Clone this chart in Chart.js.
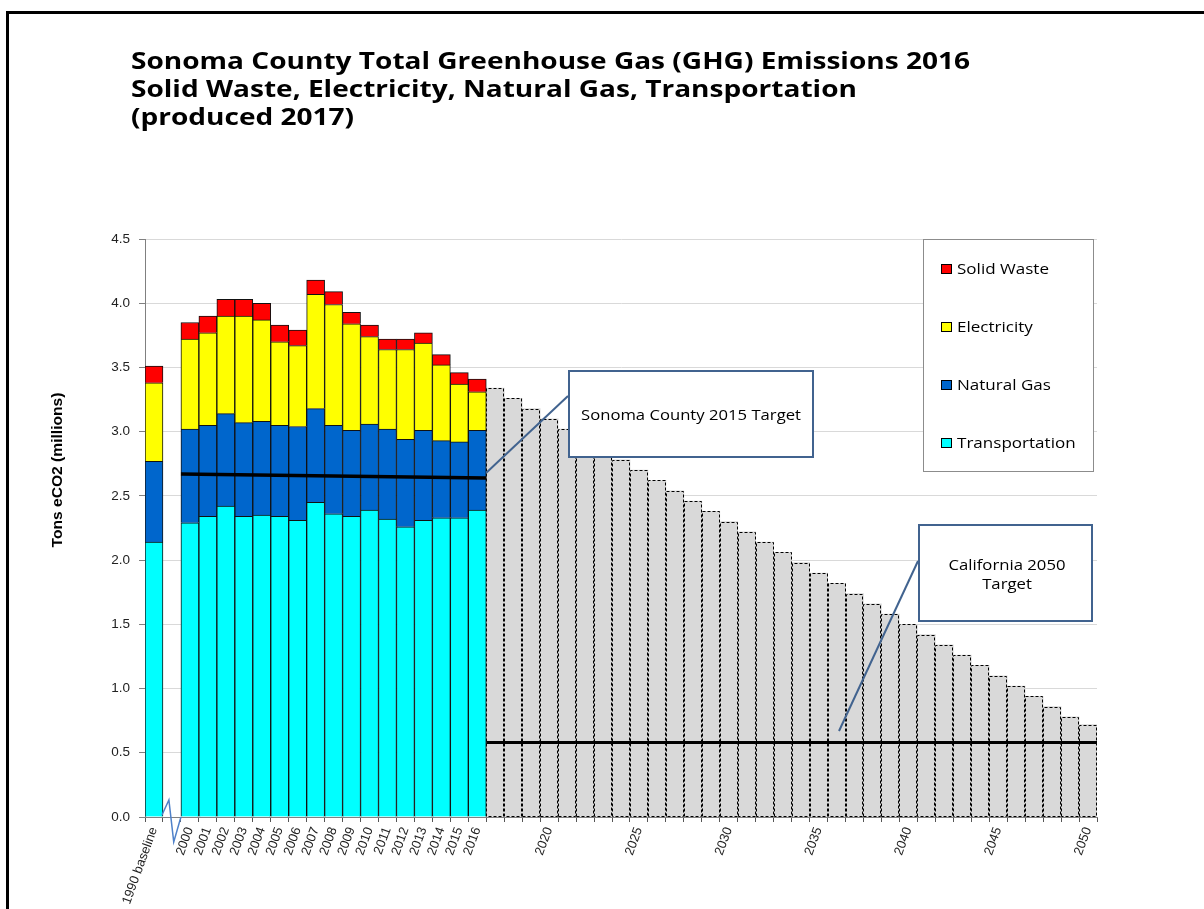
<!DOCTYPE html>
<html>
<head>
<meta charset="utf-8">
<script src="https://cdn.jsdelivr.net/npm/chart.js@4.4.1/dist/chart.umd.min.js"></script>
<style>
html,body{margin:0;padding:0;background:#fff;}
canvas{display:block;}
</style>
</head>
<body>
<canvas id="c" width="1204" height="909"></canvas>
<script>
// ---------- text ----------
const titleLines = [
  'Sonoma County Total Greenhouse Gas (GHG) Emissions 2016',
  'Solid Waste, Electricity, Natural Gas, Transportation',
  '(produced 2017)'
];
const yAxisTitle = 'Tons eCO2 (millions)';

// ---------- categories ----------
const baselineLabel = '1990 baseline';
const gapLabel = '';
const histYears = ['2000','2001','2002','2003','2004','2005','2006','2007','2008','2009','2010','2011','2012','2013','2014','2015','2016'];
const projYears = ['2017','2018','2019','2020','2021','2022','2023','2024','2025','2026','2027','2028','2029','2030',
  '2031','2032','2033','2034','2035','2036','2037','2038','2039','2040','2041','2042','2043','2044','2045','2046',
  '2047','2048','2049','2050'];
const shownProjLabels = ['2020','2025','2030','2035','2040','2045','2050'];

// ---------- series (baseline, gap, 2000..2016), millions of tons ----------
const transportation = [2.14, null, 2.29, 2.34, 2.42, 2.34, 2.35, 2.34, 2.31, 2.45, 2.36, 2.34, 2.39, 2.32, 2.26, 2.31, 2.33, 2.33, 2.39];
const naturalGas     = [0.63, null, 0.73, 0.71, 0.72, 0.73, 0.73, 0.71, 0.73, 0.73, 0.69, 0.67, 0.67, 0.70, 0.68, 0.70, 0.60, 0.59, 0.62];
const electricity    = [0.61, null, 0.70, 0.72, 0.76, 0.83, 0.79, 0.65, 0.63, 0.89, 0.94, 0.83, 0.68, 0.62, 0.70, 0.68, 0.59, 0.45, 0.30];
const solidWaste     = [0.13, null, 0.13, 0.13, 0.13, 0.13, 0.13, 0.13, 0.12, 0.11, 0.10, 0.09, 0.09, 0.08, 0.08, 0.08, 0.08, 0.09, 0.10];
// projected reduction path 2017..2050
const projection = [3.34, 3.26, 3.18, 3.10, 3.02, 2.94, 2.86, 2.78, 2.70, 2.62, 2.54, 2.46, 2.38, 2.30, 2.22, 2.14, 2.06,
  1.98, 1.90, 1.82, 1.74, 1.66, 1.58, 1.50, 1.42, 1.34, 1.26, 1.18, 1.10, 1.02, 0.94, 0.86, 0.78, 0.72];
// target lines
const sonomaTarget = { from: '2000', to: '2016', start: 2.67, end: 2.64 };
const californiaTarget = { from: '2017', to: '2050', start: 0.58, end: 0.58 };

const yTicks = { min: 0, max: 4.5, step: 0.5 };

// ---------- build ----------
const categories = [baselineLabel, gapLabel].concat(histYears, projYears);
const nHist = 2 + histYears.length;
const padProj = arr => arr.concat(new Array(projYears.length).fill(null));
const projData = new Array(nHist).fill(null).concat(projection);
function targetLine(t) {
  return [
    { x: categories.indexOf(t.from) - 0.5, y: t.start },
    { x: categories.indexOf(t.to) + 0.5, y: t.end }
  ];
}

const COLORS = {
  'Transportation': '#00ffff',
  'Natural Gas': '#0066cc',
  'Electricity': '#ffff00',
  'Solid Waste': '#ff0000'
};

function measure(ctx, text, font) {
  ctx.save(); ctx.font = font; const w = ctx.measureText(text).width; ctx.restore(); return w;
}
function drawText(ctx, text, x, y, font, sx, align, color) {
  ctx.save();
  ctx.font = font; ctx.textAlign = align || 'left'; ctx.textBaseline = 'alphabetic';
  ctx.fillStyle = color || '#000';
  ctx.translate(x, y); ctx.scale(sx, 1); ctx.fillText(text, 0, 0);
  ctx.restore();
}

const decorPlugin = {
  id: 'decor',
  beforeDraw(chart) {
    const ctx = chart.ctx;
    ctx.save(); ctx.fillStyle = '#fff'; ctx.fillRect(0, 0, chart.width, chart.height); ctx.restore();
  },
  afterDatasetDraw(chart, args) {
    const ds = chart.data.datasets[args.index];
    if (ds.label !== 'Projection') return;
    const ctx = chart.ctx;
    ctx.save();
    ctx.strokeStyle = '#000'; ctx.lineWidth = 1; ctx.setLineDash([3, 2]);
    args.meta.data.forEach((el, i) => {
      if (ds.data[i] == null) return;
      const p = el.getProps(['x', 'y', 'base', 'width'], true);
      const l = Math.round(p.x - p.width / 2) + 0.5, r = Math.round(p.x + p.width / 2) - 0.5;
      const t = Math.round(p.y) + 0.5, b = Math.round(p.base) - 0.5;
      ctx.beginPath();
      ctx.moveTo(l, b); ctx.lineTo(l, t); ctx.lineTo(r, t); ctx.lineTo(r, b); ctx.lineTo(l, b);
      ctx.stroke();
    });
    ctx.restore();
  },
  afterDraw(chart) {
    const ctx = chart.ctx;
    const xs = chart.scales.x, ys = chart.scales.y;
    // frame
    ctx.save();
    ctx.fillStyle = '#000';
    ctx.fillRect(6, 11, chart.width - 6, 3);
    ctx.fillRect(6, 11, 3, chart.height - 11);
    ctx.restore();

    // title
    const tFont = 'bold 23px "Open Sans"';
    const tScale = 839 / measure(ctx, titleLines[0], tFont);
    titleLines.forEach((t, i) => drawText(ctx, t, 131, 69 + i * 28, tFont, tScale, 'left', '#000'));

    // y axis title
    ctx.save();
    const yFont = 'bold 14px "Liberation Sans"';
    const ySc = 155 / measure(ctx, yAxisTitle, yFont);
    ctx.translate(62, 470); ctx.rotate(-Math.PI / 2);
    drawText(ctx, yAxisTitle, 0, 0, yFont, ySc, 'center', '#000');
    ctx.restore();

    // axis break zigzag between baseline and 2000
    const half = (xs.getPixelForValue(1) - xs.getPixelForValue(0)) / 2;
    const e1 = xs.getPixelForValue(0) + half, e2 = xs.getPixelForValue(2) - half;
    const base = ys.getPixelForValue(0);
    ctx.save();
    ctx.strokeStyle = '#4f81c9'; ctx.lineWidth = 1.5;
    ctx.beginPath();
    ctx.moveTo(e1 - 1, base - 2);
    ctx.lineTo(e1 + (e2 - e1) * 0.33, base - 17);
    ctx.lineTo(e1 + (e2 - e1) * 0.6, base + 25);
    ctx.lineTo(e2, base);
    ctx.stroke();
    ctx.restore();

    // legend
    ctx.save();
    ctx.fillStyle = '#fff'; ctx.fillRect(923, 239, 170, 232);
    ctx.strokeStyle = '#8c8c8c'; ctx.lineWidth = 1; ctx.strokeRect(923.5, 239.5, 170, 232);
    const lFont = '15px "Open Sans"';
    const legendItems = ['Solid Waste', 'Electricity', 'Natural Gas', 'Transportation'];
    const lScale = 92 / measure(ctx, 'Solid Waste', lFont);
    legendItems.forEach((name, i) => {
      const top = 264 + i * 58;
      ctx.fillStyle = COLORS[name]; ctx.fillRect(941, top, 11, 10);
      ctx.strokeStyle = '#000'; ctx.strokeRect(941.5, top + 0.5, 10, 9);
      drawText(ctx, name, 957, top + 10, lFont, lScale, 'left', '#000');
    });
    ctx.restore();

    // callouts
    const cColor = '#41638f';
    const cFont = '15px "Open Sans"';
    ctx.save();
    ctx.strokeStyle = cColor; ctx.lineWidth = 2;
    // Sonoma
    const sx2016 = xs.getPixelForValue(categories.indexOf('2016')) + half;
    ctx.beginPath(); ctx.moveTo(568, 396); ctx.lineTo(sx2016, ys.getPixelForValue(2.68)); ctx.stroke();
    ctx.fillStyle = '#fff'; ctx.fillRect(569, 371, 244, 86);
    ctx.strokeRect(569, 371, 244, 86);
    const s1 = 'Sonoma County 2015 Target';
    drawText(ctx, s1, 691, 420, cFont, 220 / measure(ctx, s1, cFont), 'center', '#000');
    // California
    ctx.beginPath(); ctx.moveTo(918, 561); ctx.lineTo(839, 731); ctx.stroke();
    ctx.fillStyle = '#fff'; ctx.fillRect(919, 525, 173, 96);
    ctx.strokeRect(919, 525, 173, 96);
    const c1 = 'California 2050';
    const cs = 117 / measure(ctx, c1, cFont);
    drawText(ctx, c1, 1007, 570, cFont, cs, 'center', '#000');
    drawText(ctx, 'Target', 1007, 589, cFont, cs, 'center', '#000');
    ctx.restore();
  }
};

const tickFont = { family: '"Liberation Sans", Arial, sans-serif', size: 13 };
const yTickFont = { family: '"Liberation Sans", Arial, sans-serif', size: 13.5 };
const barCommon = { type: 'bar', order: 1, stack: 'main', grouped: false, barPercentage: 1, categoryPercentage: 1 };

new Chart(document.getElementById('c'), {
  data: {
    labels: categories,
    datasets: [
      { type: 'line', label: 'Sonoma County 2015 Target', xAxisID: 'xl', stack: 'sonoma', order: 0,
        data: targetLine(sonomaTarget), borderColor: '#000', borderWidth: 3.5, pointRadius: 0, fill: false },
      { type: 'line', label: 'California 2050 Target', xAxisID: 'xl', stack: 'ca', order: 0,
        data: targetLine(californiaTarget), borderColor: '#000', borderWidth: 3, pointRadius: 0, fill: false },
      Object.assign({}, barCommon, { label: 'Transportation', data: padProj(transportation),
        backgroundColor: COLORS['Transportation'], borderColor: '#111', borderWidth: 1 }),
      Object.assign({}, barCommon, { label: 'Natural Gas', data: padProj(naturalGas),
        backgroundColor: COLORS['Natural Gas'], borderColor: '#111', borderWidth: 1 }),
      Object.assign({}, barCommon, { label: 'Electricity', data: padProj(electricity),
        backgroundColor: COLORS['Electricity'], borderColor: '#111', borderWidth: 1 }),
      Object.assign({}, barCommon, { label: 'Solid Waste', data: padProj(solidWaste),
        backgroundColor: COLORS['Solid Waste'], borderColor: '#111', borderWidth: 1 }),
      Object.assign({}, barCommon, { label: 'Projection', data: projData,
        backgroundColor: '#d9d9d9', borderWidth: 0 })
    ]
  },
  options: {
    responsive: false,
    animation: false,
    devicePixelRatio: 1,
    layout: { padding: { left: 0, top: 239, right: 107, bottom: 0 } },
    plugins: { legend: { display: false }, tooltip: { enabled: false }, title: { display: false } },
    scales: {
      x: {
        type: 'category', stacked: true, offset: true,
        afterFit: s => { s.height = 92; },
        border: { color: '#808080', width: 1 },
        grid: { offset: true, drawOnChartArea: false, drawTicks: true, tickLength: 5, color: '#555', tickColor: '#555' },
        ticks: {
          autoSkip: false, maxRotation: 70, minRotation: 70, padding: 3, color: '#222', font: tickFont,
          callback: function (v, i) {
            const l = categories[i];
            if (i < nHist) return l;
            return shownProjLabels.includes(l) ? l : '';
          }
        }
      },
      xl: { type: 'linear', display: false, min: -0.5, max: categories.length - 0.5 },
      y: {
        stacked: true, min: yTicks.min, max: yTicks.max,
        afterFit: s => { s.width = 145; },
        border: { color: '#808080', width: 1 },
        grid: { color: '#d9d9d9', tickColor: '#808080', tickLength: 6 },
        ticks: { stepSize: yTicks.step, padding: 9, color: '#222', font: yTickFont,
          callback: v => Number(v).toFixed(1) }
      }
    }
  },
  plugins: [decorPlugin]
});
</script>
</body>
</html>
